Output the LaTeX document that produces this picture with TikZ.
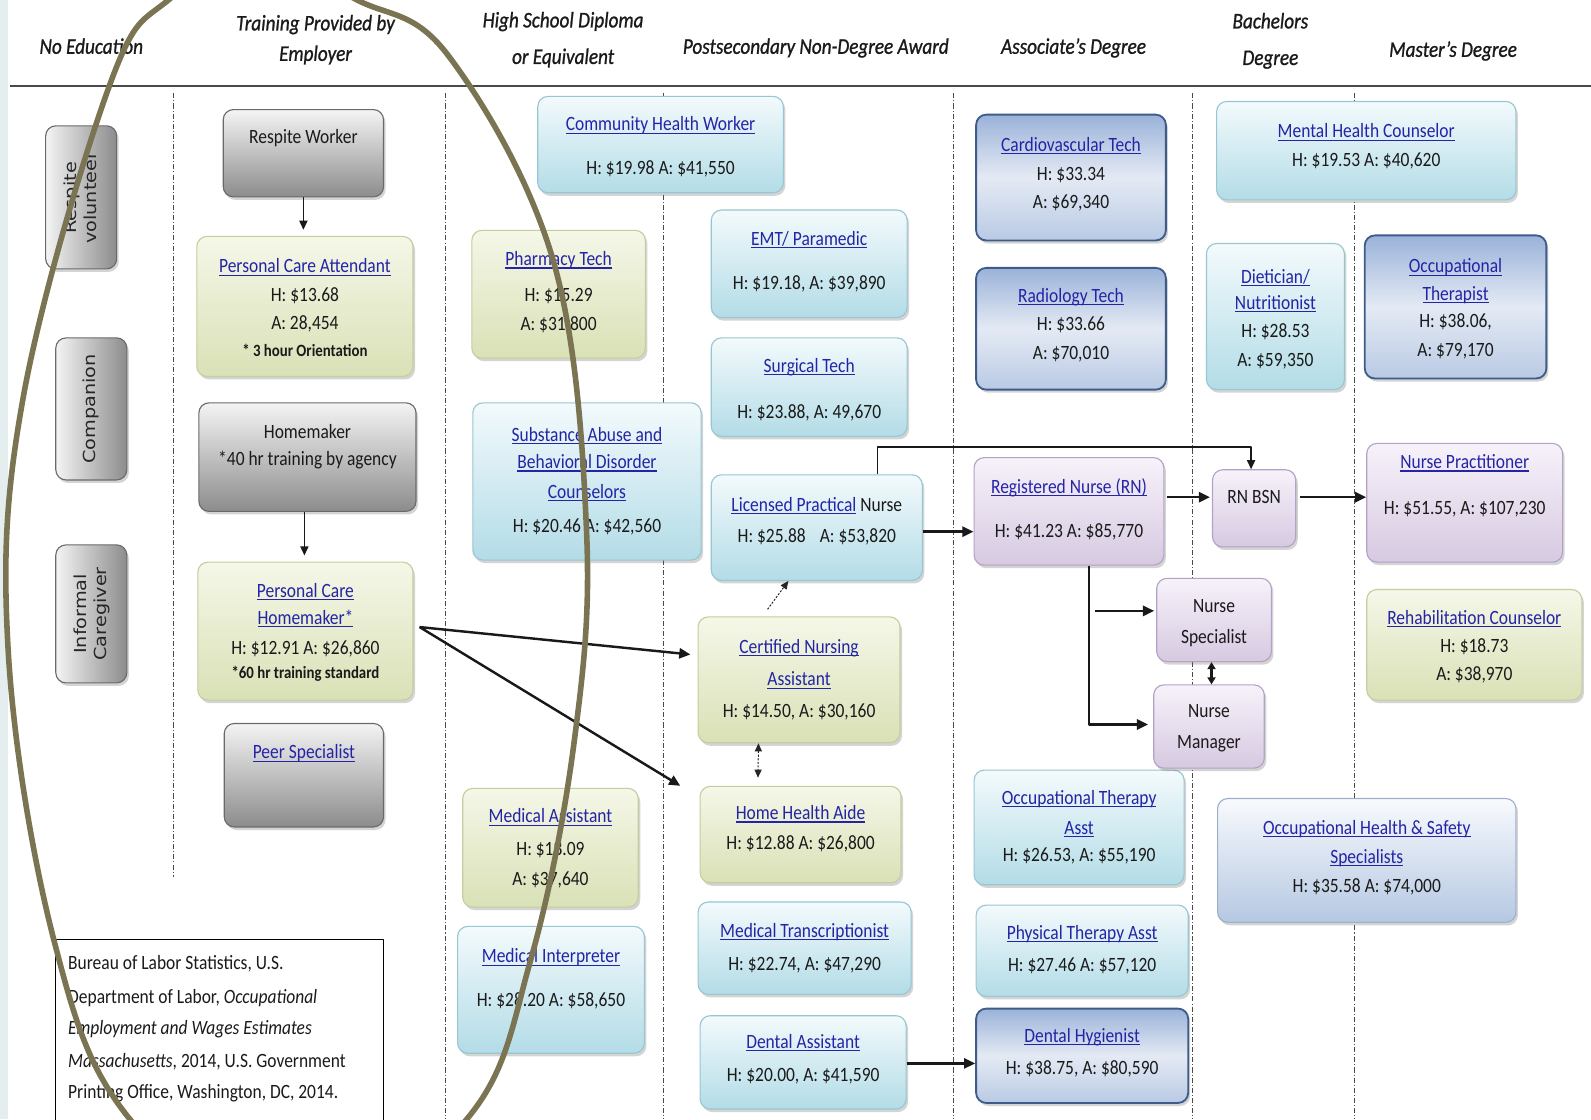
\documentclass[tikz,border=0pt]{standalone}
\usepackage{fontspec}
\setmainfont{Carlito}[FakeStretch=0.86]
\newfontfamily\rotfont{DejaVu Sans}
\usepackage{graphicx}
\usetikzlibrary{arrows.meta,shadows}

\definecolor{txtc}{HTML}{1A1A1A}
\definecolor{linkc}{HTML}{2424A6}
\definecolor{rotc}{HTML}{262626}
\definecolor{grayT}{HTML}{F4F4F4}
\definecolor{grayB}{HTML}{8C8C8C}
\definecolor{grayBd}{HTML}{6A6A6A}
\definecolor{grnT}{HTML}{F5F7E8}
\definecolor{grnB}{HTML}{D9E1B6}
\definecolor{grnBd}{HTML}{C4CE9E}
\definecolor{bluT}{HTML}{F3FAFC}
\definecolor{bluB}{HTML}{B3DCE7}
\definecolor{bluBd}{HTML}{98C6D2}
\definecolor{dbT}{HTML}{9AB2D9}
\definecolor{dbM}{HTML}{E4EAF4}
\definecolor{dbB}{HTML}{B9CAE4}
\definecolor{dbBd}{HTML}{3E5C88}
\definecolor{purT}{HTML}{F7F2FA}
\definecolor{purB}{HTML}{D6C9E1}
\definecolor{purBd}{HTML}{B2A2C6}
\definecolor{stlT}{HTML}{F8FAFD}
\definecolor{stlB}{HTML}{B5C8E2}
\definecolor{stlBd}{HTML}{9CB0CB}
\definecolor{stripc}{HTML}{E4EEEE}
\definecolor{ovalc}{HTML}{7A7452}
\definecolor{sepc}{HTML}{4A4A4A}

\newcommand\bodyfont{\fontsize{20}{24}\selectfont}
\newcommand\hdrfont{\fontsize{22}{26}\selectfont\itshape\addfontfeature{FakeBold=1}}
\newcommand\smallbold{\fontsize{17}{20}\selectfont\bfseries}
\newcommand\lnk[1]{{\color{linkc}\setbox0=\hbox{#1}\rlap{\rule[-2.8pt]{\wd0}{1.2pt}}\box0}}
\newcommand\mkbox[6]{\node[#2, minimum width={(#5-#3)*1pt}, minimum height={(#6-#4)*1pt}] (#1) at ({(#3+#5)/2},{(#4+#6)/2}) {};}
\newcommand\mkline[4]{\node[txt] (#1) at (#2.center |- 0,#3) {#4};}

\tikzset{
  jbox/.style={rounded corners=10pt, line width=1.1pt, inner sep=0pt,
    drop shadow={shadow xshift=2pt,shadow yshift=-3pt,opacity=.28,fill=black!60}},
  greybox/.style={jbox, draw=grayBd, top color=grayT, bottom color=grayB},
  rotbox/.style={jbox, draw=grayBd, left color=grayT, right color=grayB},
  grnbox/.style={jbox, draw=grnBd, top color=grnT, bottom color=grnB},
  blubox/.style={jbox, draw=bluBd, top color=bluT, bottom color=bluB},
  dbbox/.style={jbox, draw=dbBd, line width=1.8pt, top color=dbT, bottom color=dbB, middle color=dbM},
  purbox/.style={jbox, draw=purBd, top color=purT, bottom color=purB},
  stlbox/.style={jbox, draw=stlBd, top color=stlT, bottom color=stlB},
  bureau/.style={draw=black, line width=1.3pt, fill=white},
  txt/.style={inner sep=0pt, text height=12pt, text depth=0pt, anchor=center, font=\bodyfont, text=txtc},
  hdr/.style={inner sep=0pt, text height=14pt, text depth=0pt, anchor=center, font=\hdrfont, text=txtc},
  rottxt/.style={inner sep=0pt, rotate=90, font=\rotfont\fontsize{19}{23}\selectfont, text=rotc},
  sepline/.style={draw=sepc, line width=1pt, dash pattern=on 5pt off 2pt on 1pt off 2pt},
  arrthick/.style={draw=black!90, line width=2.4pt, -{Triangle[length=11pt,width=10pt]}},
  arrthin/.style={draw=black!90, line width=1.5pt, -{Triangle[length=9pt,width=8pt]}},
  arrdot/.style={draw=black!85, line width=1pt, dash pattern=on 2pt off 1.5pt, -{Triangle[length=8pt,width=7pt]}},
  oval/.style={draw=ovalc, line width=5.5pt}
}

\begin{document}
\begin{tikzpicture}[x=1pt, y=-1pt, line join=round]
\useasboundingbox (0,0) rectangle (1568,1103);
\fill[white] (0,0) rectangle (1568,1103);
\fill[stripc] (0,0) rectangle (8,1103);

% headers
\node[hdr] (hNoEd) at (90,46) {No Education};
\node[hdr] (hTr1) at (311,23) {Training Provided by};
\node[hdr] (hTr2) at (311,53) {Employer};
\node[hdr] (hHS1) at (555,20) {High School Diploma};
\node[hdr] (hHS2) at (555,56) {or Equivalent};
\node[hdr] (hPS) at (804,46) {Postsecondary Non-Degree Award};
\node[hdr] (hAs) at (1058,46) {Associate’s Degree};
\node[hdr] (hBa1) at (1252,21) {Bachelors};
\node[hdr] (hBa2) at (1252,57) {Degree};
\node[hdr] (hMa) at (1432,49) {Master’s Degree};

\draw[sepc, line width=2pt] (10,85) -- (1568,85);
\foreach \xx/\yy in {171/864, 439/1103, 654/1103, 940/1103, 1175/1103, 1335/1103}
  \draw[sepline] (\xx,92) -- (\xx,\yy);

% boxes
\mkbox{resp}{rotbox}{45}{124}{115}{265}
\mkbox{comp}{rotbox}{55}{333}{125}{473}
\mkbox{inf}{rotbox}{55}{537}{125}{673}
\mkbox{rw}{greybox}{220}{108}{378}{194}
\mkbox{hm}{greybox}{196}{397}{410}{504}
\mkbox{peer}{greybox}{221}{713}{378}{815}
\mkbox{pca}{grnbox}{194}{233}{407}{371}
\mkbox{pch}{grnbox}{195}{554}{407}{690}
\mkbox{ph}{grnbox}{465}{227}{636}{353}
\mkbox{ma}{grnbox}{456}{777}{629}{894}
\mkbox{cna}{grnbox}{688}{608}{887}{732}
\mkbox{hha}{grnbox}{690}{775}{888}{870}
\mkbox{rc}{grnbox}{1347}{581}{1559}{690}
\mkbox{chw}{blubox}{530}{95}{772}{190}
\mkbox{sub}{blubox}{466}{397}{691}{552}
\mkbox{mi}{blubox}{451}{913}{635}{1038}
\mkbox{emt}{blubox}{701}{207}{894}{313}
\mkbox{surg}{blubox}{701}{333}{894}{430}
\mkbox{lpn}{blubox}{701}{468}{909}{572}
\mkbox{mt}{blubox}{688}{889}{898}{980}
\mkbox{da}{blubox}{690}{1001}{893}{1093}
\mkbox{ota}{blubox}{960}{759}{1167}{872}
\mkbox{pta}{blubox}{962}{892}{1171}{982}
\mkbox{diet}{blubox}{1189}{240}{1325}{384}
\mkbox{mhc}{blubox}{1199}{100}{1494}{197}
\mkbox{cardio}{dbbox}{962}{113}{1149}{237}
\mkbox{rad}{dbbox}{962}{264}{1149}{384}
\mkbox{ot}{dbbox}{1345}{232}{1524}{373}
\mkbox{dh}{dbbox}{962}{994}{1171}{1087}
\mkbox{rn}{purbox}{960}{451}{1147}{557}
\mkbox{bsn}{purbox}{1195}{463}{1277}{539}
\mkbox{ns}{purbox}{1140}{570}{1253}{652}
\mkbox{nm}{purbox}{1137}{675}{1246}{757}
\mkbox{np}{purbox}{1347}{437}{1540}{554}
\mkbox{ohs}{stlbox}{1200}{787}{1494}{909}
\mkbox{bls}{bureau}{55}{926}{378}{1112}

% rotated texts
\node[rottxt] (resp-t) at (81,195) {\scalebox{1}[0.86]{\begin{tabular}{@{}c@{}}Respite\\volunteer\end{tabular}}};
\node[rottxt] (comp-t) at (90,403) {\scalebox{1}[0.86]{Companion}};
\node[rottxt] (inf-t) at (91,605) {\scalebox{1}[0.86]{\begin{tabular}{@{}c@{}}Informal\\Caregiver\end{tabular}}};

% box texts
\mkline{rw1}{rw}{135}{Respite Worker}
\mkline{hm1}{hm}{426}{Homemaker}
\mkline{hm2}{hm}{453}{*40 hr training by agency}
\mkline{peer1}{peer}{742}{\lnk{Peer Specialist}}
\mkline{pca1}{pca}{263}{\lnk{Personal Care Attendant}}
\mkline{pca2}{pca}{291}{H: \$13.68}
\mkline{pca3}{pca}{319}{A: 28,454}
\mkline{pca4}{pca}{345}{\smallbold * 3 hour Orientation}
\mkline{pch1}{pch}{583}{\lnk{Personal Care}}
\mkline{pch2}{pch}{609}{\lnk{Homemaker*}}
\mkline{pch3}{pch}{639}{H: \$12.91 A: \$26,860}
\mkline{pch4}{pch}{663}{\smallbold *60 hr training standard}
\mkline{ph1}{ph}{256}{\lnk{Pharmacy Tech}}
\mkline{ph2}{ph}{291}{H: \$15.29}
\mkline{ph3}{ph}{320}{A: \$31,800}
\mkline{ma1}{ma}{805}{\lnk{Medical Assistant}}
\mkline{ma2}{ma}{837}{H: \$18.09}
\mkline{ma3}{ma}{867}{A: \$37,640}
\mkline{cna1}{cna}{638}{\lnk{Certified Nursing}}
\mkline{cna2}{cna}{670}{\lnk{Assistant}}
\mkline{cna3}{cna}{701}{H: \$14.50, A: \$30,160}
\mkline{hha1}{hha}{802}{\lnk{Home Health Aide}}
\mkline{hha2}{hha}{831}{H: \$12.88 A: \$26,800}
\mkline{rc1}{rc}{609}{\lnk{Rehabilitation Counselor}}
\mkline{rc2}{rc}{637}{H: \$18.73}
\mkline{rc3}{rc}{665}{A: \$38,970}
\mkline{chw1}{chw}{123}{\lnk{Community Health Worker}}
\mkline{chw2}{chw}{166}{H: \$19.98 A: \$41,550}
\mkline{sub1}{sub}{429}{\lnk{Substance Abuse and}}
\mkline{sub2}{sub}{456}{\lnk{Behavioral Disorder}}
\mkline{sub3}{sub}{485}{\lnk{Counselors}}
\mkline{sub4}{sub}{519}{H: \$20.46 A: \$42,560}
\mkline{mi1}{mi}{943}{\lnk{Medical Interpreter}}
\mkline{mi2}{mi}{986}{H: \$28.20 A: \$58,650}
\mkline{emt1}{emt}{236}{\lnk{EMT/ Paramedic}}
\mkline{emt2}{emt}{279}{H: \$19.18, A: \$39,890}
\mkline{surg1}{surg}{361}{\lnk{Surgical Tech}}
\mkline{surg2}{surg}{406}{H: \$23.88, A: 49,670}
\mkline{lpn1}{lpn}{498}{\lnk{Licensed Practical} Nurse}
\mkline{lpn2}{lpn}{529}{H: \$25.88\enspace\ A: \$53,820}
\mkline{mt1}{mt}{918}{\lnk{Medical Transcriptionist}}
\mkline{mt2}{mt}{950}{H: \$22.74, A: \$47,290}
\mkline{da1}{da}{1027}{\lnk{Dental Assistant}}
\mkline{da2}{da}{1060}{H: \$20.00, A: \$41,590}
\mkline{ota1}{ota}{787}{\lnk{Occupational Therapy}}
\mkline{ota2}{ota}{816}{\lnk{Asst}}
\mkline{ota3}{ota}{843}{H: \$26.53, A: \$55,190}
\mkline{pta1}{pta}{920}{\lnk{Physical Therapy Asst}}
\mkline{pta2}{pta}{951}{H: \$27.46 A: \$57,120}
\mkline{diet1}{diet}{273}{\lnk{Dietician/}}
\mkline{diet2}{diet}{299}{\lnk{Nutritionist}}
\mkline{diet3}{diet}{327}{H: \$28.53}
\mkline{diet4}{diet}{355}{A: \$59,350}
\mkline{mhc1}{mhc}{130}{\lnk{Mental Health Counselor}}
\mkline{mhc2}{mhc}{158}{H: \$19.53 A: \$40,620}
\mkline{cardio1}{cardio}{143}{\lnk{Cardiovascular Tech}}
\mkline{cardio2}{cardio}{172}{H: \$33.34}
\mkline{cardio3}{cardio}{199}{A: \$69,340}
\mkline{rad1}{rad}{292}{\lnk{Radiology Tech}}
\mkline{rad2}{rad}{320}{H: \$33.66}
\mkline{rad3}{rad}{348}{A: \$70,010}
\mkline{ot1}{ot}{263}{\lnk{Occupational}}
\mkline{ot2}{ot}{290}{\lnk{Therapist}}
\mkline{ot3}{ot}{317}{H: \$38.06,}
\mkline{ot4}{ot}{345}{A: \$79,170}
\mkline{dh1}{dh}{1021}{\lnk{Dental Hygienist}}
\mkline{dh2}{dh}{1053}{H: \$38.75, A: \$80,590}
\mkline{rn1}{rn}{480}{\lnk{Registered Nurse (RN)}}
\mkline{rn2}{rn}{524}{H: \$41.23 A: \$85,770}
\mkline{bsn1}{bsn}{490}{RN BSN}
\mkline{ns1}{ns}{598}{Nurse}
\mkline{ns2}{ns}{628}{Specialist}
\mkline{nm1}{nm}{701}{Nurse}
\mkline{nm2}{nm}{732}{Manager}
\mkline{np1}{np}{456}{\lnk{Nurse Practitioner}}
\mkline{np2}{np}{501}{H: \$51.55, A: \$107,230}
\mkline{ohs1}{ohs}{816}{\lnk{Occupational Health \& Safety}}
\mkline{ohs2}{ohs}{845}{\lnk{Specialists}}
\mkline{ohs3}{ohs}{874}{H: \$35.58 A: \$74,000}

% source box text
\node[txt, anchor=west] (bls1) at (67,949) {Bureau of Labor Statistics, U.S.};
\node[txt, anchor=west] (bls2) at (67,983) {Department of Labor, \textit{Occupational}};
\node[txt, anchor=west] (bls3) at (67,1014) {\textit{Employment and Wages Estimates}};
\node[txt, anchor=west] (bls4) at (67,1046) {\textit{Massachusetts}, 2014, U.S. Government};
\node[txt, anchor=west] (bls5) at (67,1077) {Printing Office, Washington, DC, 2014.};

% connectors
\draw[arrthin, shorten >=6pt] (rw.south) -- (rw.south |- pca.north);
\draw[arrthin, shorten >=6pt] ([xshift=-3pt]hm.south) -- ([xshift=-3pt]hm.south |- pch.north);
\draw[arrthick] ([xshift=6pt,yshift=4pt]pch.east) -- ([xshift=-7pt,yshift=25pt]cna.west);
\draw[arrthick] ([xshift=6pt,yshift=4pt]pch.east) -- ([xshift=-19pt]hha.north west);
\draw[arrdot] ([xshift=-31pt,yshift=7pt]cna.north) -- ([xshift=-28pt]lpn.south);
\draw[arrdot, {Triangle[length=8pt,width=7pt]}-{Triangle[length=8pt,width=7pt]}] ([xshift=-40pt]cna.south) -- ([xshift=-42pt,yshift=8pt]hha.north);
\draw[arrthick] ([yshift=-4pt]lpn.east) -- ([yshift=-20pt]rn.west);
\draw[arrthin] ([xshift=60pt]lpn.north) -- ++(0,-27) -| ([xshift=-3pt]bsn.north);
\draw[arrthick, shorten <=3pt, shorten >=2pt] ([yshift=14pt]rn.east) -- ([yshift=11pt]bsn.west);
\draw[arrthick, shorten <=4pt] ([yshift=11pt]bsn.east) -- ([yshift=5.5pt]np.west);
\draw[arrthick, shorten >=5pt] ([xshift=19.5pt]rn.south) |- ([yshift=2pt]nm.west);
\coordinate (nsfrom) at (1079,602);
\draw[arrthick, shorten >=2pt] (nsfrom) -- ([yshift=9pt]ns.west);
\draw[arrthick, {Triangle[length=7pt,width=8pt]}-{Triangle[length=7pt,width=8pt]}] ([xshift=-2.5pt]ns.south) -- ([xshift=2.5pt]nm.north);
\draw[arrthick] ([yshift=-1pt]da.east) -- ([yshift=-7.5pt]dh.west);

% hand-drawn oval
\begin{scope}
\clip (0,0) rectangle (1568,1103);
\draw[oval] plot[smooth cycle, tension=0.62] coordinates {(108,84) (166,0) (258,-40) (352,0) (442,55) (545,256) (578,522) (566,730) (523,946) (460,1103) (292,1221) (128,1103) (53,926) (8,640) (23,391)};
\end{scope}
\end{tikzpicture}
\end{document}
